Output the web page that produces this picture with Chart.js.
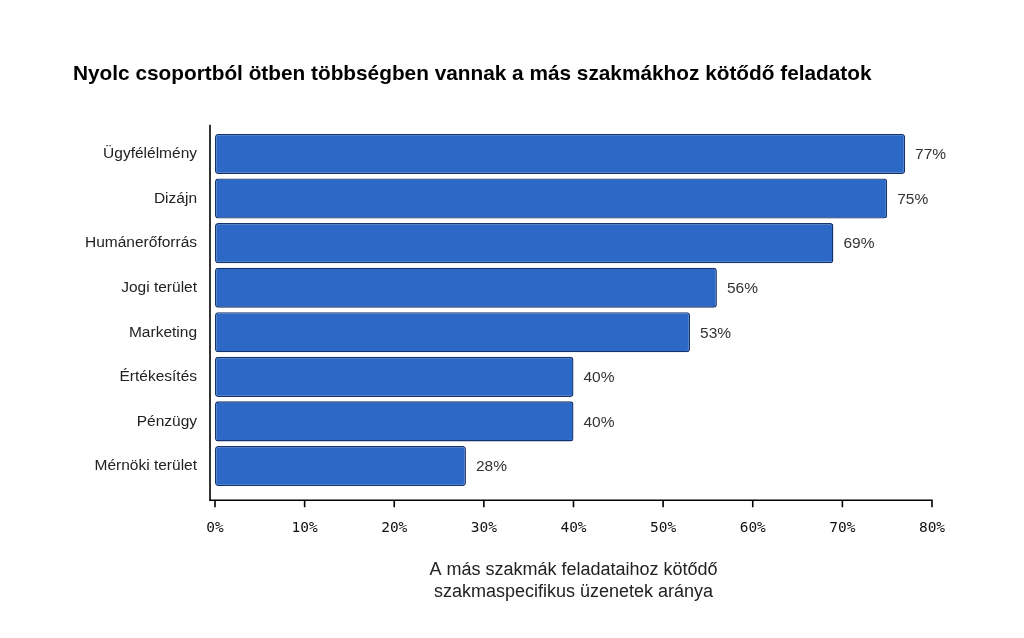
<!DOCTYPE html>
<html>
<head>
<meta charset="utf-8">
<script src="https://cdn.jsdelivr.net/npm/chart.js@4"></script>
<style>
html,body{margin:0;padding:0;background:#fff;}
#wrap{width:1024px;height:638px;position:relative;}
</style>
</head>
<body>
<div id="wrap"><canvas id="c"></canvas></div>
<script>
const titleText = 'Nyolc csoportból ötben többségben vannak a más szakmákhoz kötődő feladatok';
const categories = ['Ügyfélélmény','Dizájn','Humánerőforrás','Jogi terület','Marketing','Értékesítés','Pénzügy','Mérnöki terület'];
const values = [77, 75, 69, 56, 53, 40, 40, 28];
const xTicks = [0, 10, 20, 30, 40, 50, 60, 70, 80];
const xTitle = ['A más szakmák feladataihoz kötődő', 'szakmaspecifikus üzenetek aránya'];

const axisPlugin = {
  id: 'axisLines',
  afterDraw(chart) {
    const {ctx, chartArea, scales} = chart;
    const xs = scales.x;
    const left = chartArea.left - 5;
    const top = chartArea.top - 7;
    const bottom = chartArea.bottom + 12;
    ctx.save();
    ctx.strokeStyle = '#000';
    ctx.lineWidth = 1.6;
    ctx.beginPath();
    ctx.moveTo(left, top);
    ctx.lineTo(left, bottom + 0.8);
    ctx.moveTo(left - 0.8, bottom);
    ctx.lineTo(xs.getPixelForValue(80) + 0.8, bottom);
    xTicks.forEach(v => {
      const px = xs.getPixelForValue(v);
      ctx.moveTo(px, bottom);
      ctx.lineTo(px, bottom + 7);
    });
    ctx.stroke();
    // value labels
    const meta = chart.getDatasetMeta(0);
    ctx.fillStyle = '#333';
    ctx.font = '15.5px "Liberation Sans", Arial, sans-serif';
    ctx.textAlign = 'left';
    ctx.textBaseline = 'middle';
    meta.data.forEach((bar, i) => {
      ctx.fillText(values[i] + '%', bar.x + 10, bar.y + 1);
    });
    ctx.restore();
  }
};

new Chart(document.getElementById('c'), {
  type: 'bar',
  data: {
    labels: categories,
    datasets: [{
      data: values,
      backgroundColor: '#2c68c6',
      borderColor: '#15346f',
      borderWidth: 1.4,
      borderRadius: 3,
      borderSkipped: false,
      barPercentage: 0.9,
      categoryPercentage: 1.0
    }]
  },
  options: {
    indexAxis: 'y',
    responsive: true,
    maintainAspectRatio: false,
    animation: false,
    devicePixelRatio: 1,
    layout: { padding: { left: 73, right: 92, top: 0, bottom: 0 } },
    plugins: {
      legend: { display: false },
      tooltip: { enabled: false },
      title: {
        display: true,
        text: titleText,
        align: 'start',
        color: '#000',
        font: { family: '"Liberation Sans", Arial, sans-serif', size: 20.8, weight: 'bold', lineHeight: 1.2 },
        padding: { top: 61.5, bottom: 45.2 }
      }
    },
    scales: {
      x: {
        type: 'linear',
        min: 0,
        max: 80,
        afterBuildTicks(scale) { scale.ticks = xTicks.map(v => ({ value: v })); },
        grid: { display: false },
        border: { display: false },
        ticks: {
          padding: 23.5,
          color: '#111',
          font: { family: '"DejaVu Sans Mono", monospace', size: 14.5 },
          callback: v => v + '%',
          maxRotation: 0
        },
        title: {
          display: true,
          text: xTitle,
          color: '#222',
          font: { family: '"Liberation Sans", Arial, sans-serif', size: 18, lineHeight: 1.22 },
          padding: { top: 18, bottom: 35 }
        },
        afterFit(scale) { scale.height = 638 - 488.3; }
      },
      y: {
        grid: { display: false },
        border: { display: false },
        ticks: {
          padding: 10,
          color: '#222',
          font: { family: '"Liberation Sans", Arial, sans-serif', size: 15.5 }
        },
        afterFit(scale) { scale.width = 142; }
      }
    }
  },
  plugins: [axisPlugin]
});
</script>
</body>
</html>
